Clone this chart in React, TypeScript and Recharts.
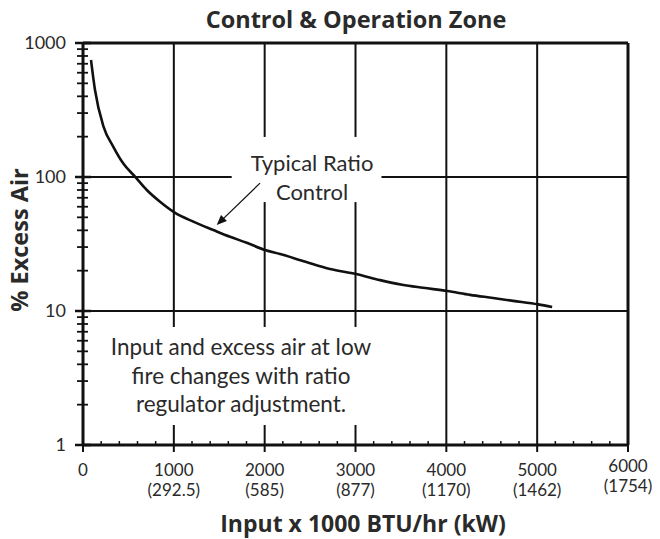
import { LineChart, Line, XAxis, YAxis, ReferenceLine } from "recharts";

// curve: input (x1000 BTU/hr) vs % excess air
const INPUT = [
  88, 132, 224, 334, 444, 573, 702, 848, 1006, 1215, 1435, 1619, 1803, 2004, 2170, 2450,
  2720, 3007, 3271, 3513, 3744, 4009, 4262, 4515, 4736, 5011, 5165,
];
const EXCESS_AIR = [
  747, 446, 240, 168, 126, 100.5, 80, 65.4, 54.5, 46.4, 40.2, 35.8, 32.3, 28.5, 26.6, 23.3,
  20.6, 18.9, 17.0, 15.7, 14.9, 14.1, 13.2, 12.5, 11.9, 11.2, 10.7,
];

const X_TICKS = [
  0, 200, 400, 600, 800, 1000, 1200, 1400, 1600, 1800, 2000, 2200, 2400, 2600, 2800, 3000,
  3200, 3400, 3600, 3800, 4000, 4200, 4400, 4600, 4800, 5000, 5200, 5400, 5600, 5800, 6000,
];
const X_MAJOR = [0, 1000, 2000, 3000, 4000, 5000, 6000];
const KW_LABELS = ["", "(292.5)", "(585)", "(877)", "(1170)", "(1462)", "(1754)"];

const Y_TICKS = [
  1, 2, 3, 4, 5, 6, 7, 8, 9, 10, 20, 30, 40, 50, 60, 70, 80, 90, 100, 200, 300, 400, 500,
  600, 700, 800, 900, 1000,
];
const Y_MAJOR = [1, 10, 100, 1000];

const data = INPUT.map((x, i) => ({ x, y: EXCESS_AIR[i] }));

const INK = "#111";
const TEXT = "#2a2a2a";
const FONT = "Lato, 'Open Sans', sans-serif";
const BOLD_FONT = "'Open Sans', Lato, sans-serif";

function XTick(props: any) {
  const { x, y, payload } = props;
  const v = payload.value as number;
  const idx = X_MAJOR.indexOf(v);
  if (idx < 0) {
    return <line x1={x} x2={x} y1={y - 4} y2={y} stroke={INK} strokeWidth={1.5} />;
  }
  const lift = v === 6000 ? -4 : 0;
  return (
    <g>
      <line x1={x} x2={x} y1={y} y2={y + 7} stroke={INK} strokeWidth={2} />
      <text x={x} y={y + 31 + lift} textAnchor="middle" fontSize={17} fill={TEXT} fontFamily={FONT}>
        {v}
      </text>
      {KW_LABELS[idx] && (
        <text x={x} y={y + 51 + lift} textAnchor="middle" fontSize={17} fill={TEXT} fontFamily={FONT}>
          {KW_LABELS[idx]}
        </text>
      )}
    </g>
  );
}

function YTick(props: any) {
  const { x, y, payload } = props;
  const v = payload.value as number;
  const major = Y_MAJOR.includes(v);
  return (
    <g>
      <line
        x1={x - (major ? 8 : 6)}
        x2={x + (major ? 8 : 5)}
        y1={y}
        y2={y}
        stroke={INK}
        strokeWidth={major ? 2.5 : 1.8}
      />
      {major && (
        <text x={x - 17} y={y} dy="0.35em" textAnchor="end" fontSize={18} fill={TEXT} fontFamily={FONT}>
          {v}
        </text>
      )}
    </g>
  );
}

function Arrow(props: any) {
  const { x1, y1, x2, y2 } = props;
  const a = Math.atan2(y2 - y1, x2 - x1);
  const len = 11;
  const w = 0.4;
  const p1 = [x2 - len * Math.cos(a - w), y2 - len * Math.sin(a - w)];
  const p2 = [x2 - len * Math.cos(a + w), y2 - len * Math.sin(a + w)];
  return (
    <g>
      <line x1={x1} y1={y1} x2={x2 - 6 * Math.cos(a)} y2={y2 - 6 * Math.sin(a)} stroke={INK} strokeWidth={1.3} />
      <polygon points={`${x2},${y2} ${p1[0]},${p1[1]} ${p2[0]},${p2[1]}`} fill={INK} />
    </g>
  );
}

const grid = { stroke: INK, strokeWidth: 2 };

export default function App() {
  return (
    <div style={{ position: "absolute", left: 0, top: 0, width: 660, height: 539, background: "#fff" }}>
      <LineChart width={660} height={539} data={data} margin={{ top: 43, right: 32, bottom: 0, left: 0 }}>
        <XAxis
          dataKey="x"
          type="number"
          domain={[0, 6000]}
          ticks={X_TICKS}
          interval={0}
          height={94}
          tickSize={0}
          tickMargin={0}
          tickLine={false}
          axisLine={{ stroke: INK, strokeWidth: 3 }}
          tick={<XTick />}
        />
        <YAxis
          type="number"
          scale="log"
          domain={[1, 1000]}
          allowDataOverflow
          ticks={Y_TICKS}
          interval={0}
          width={83}
          tickSize={0}
          tickMargin={0}
          tickLine={false}
          axisLine={{ stroke: INK, strokeWidth: 3 }}
          tick={<YTick />}
        />
        {/* grid with gaps where the notes sit */}
        <ReferenceLine segment={[{ x: 1000, y: 1000 }, { x: 1000, y: 7.6 }]} {...grid} />
        <ReferenceLine segment={[{ x: 1000, y: 1.41 }, { x: 1000, y: 1 }]} {...grid} />
        <ReferenceLine segment={[{ x: 2000, y: 1000 }, { x: 2000, y: 199 }]} {...grid} />
        <ReferenceLine segment={[{ x: 2000, y: 65 }, { x: 2000, y: 7.6 }]} {...grid} />
        <ReferenceLine segment={[{ x: 2000, y: 1.41 }, { x: 2000, y: 1 }]} {...grid} />
        <ReferenceLine segment={[{ x: 3000, y: 1000 }, { x: 3000, y: 199 }]} {...grid} />
        <ReferenceLine segment={[{ x: 3000, y: 65 }, { x: 3000, y: 7.6 }]} {...grid} />
        <ReferenceLine segment={[{ x: 3000, y: 1.41 }, { x: 3000, y: 1 }]} {...grid} />
        <ReferenceLine x={4000} {...grid} />
        <ReferenceLine x={5000} {...grid} />
        <ReferenceLine segment={[{ x: 0, y: 100 }, { x: 1637, y: 100 }]} {...grid} />
        <ReferenceLine segment={[{ x: 3286, y: 100 }, { x: 6000, y: 100 }]} {...grid} />
        <ReferenceLine y={10} {...grid} />
        <ReferenceLine y={1000} stroke={INK} strokeWidth={3} />
        <ReferenceLine x={6000} stroke={INK} strokeWidth={3} />
        <ReferenceLine segment={[{ x: 1949, y: 90 }, { x: 1472, y: 43.8 }]} shape={<Arrow />} />
        <Line
          type="monotone"
          dataKey="y"
          stroke={INK}
          strokeWidth={2.6}
          dot={false}
          isAnimationActive={false}
        />
      </LineChart>

      <div
        style={{
          position: "absolute",
          left: 356,
          top: 4,
          transform: "translateX(-50%)",
          whiteSpace: "nowrap",
          fontFamily: BOLD_FONT,
          fontWeight: 700,
          fontSize: 23.5,
          lineHeight: "30px",
          color: TEXT,
        }}
      >
        Control &amp; Operation Zone
      </div>
      <div
        style={{
          position: "absolute",
          left: 312,
          top: 148,
          transform: "translateX(-50%)",
          textAlign: "center",
          whiteSpace: "nowrap",
          fontFamily: FONT,
          fontSize: 22,
          lineHeight: "29px",
          color: TEXT,
        }}
      >
        Typical Ratio
        <br />
        Control
      </div>
      <div
        style={{
          position: "absolute",
          left: 241,
          top: 333,
          transform: "translateX(-50%)",
          textAlign: "center",
          whiteSpace: "nowrap",
          fontFamily: FONT,
          fontSize: 22.5,
          lineHeight: "28.5px",
          color: TEXT,
        }}
      >
        Input and excess air at low
        <br />
        fire changes with ratio
        <br />
        regulator adjustment.
      </div>
      <div
        style={{
          position: "absolute",
          left: 19,
          top: 240,
          transform: "translate(-50%, -50%) rotate(-90deg)",
          whiteSpace: "nowrap",
          fontFamily: BOLD_FONT,
          fontWeight: 700,
          fontSize: 23.5,
          lineHeight: "28px",
          color: TEXT,
        }}
      >
        % Excess Air
      </div>
      <div
        style={{
          position: "absolute",
          left: 363,
          top: 509,
          transform: "translateX(-50%)",
          whiteSpace: "nowrap",
          fontFamily: BOLD_FONT,
          fontWeight: 700,
          fontSize: 23,
          lineHeight: "28px",
          color: TEXT,
        }}
      >
        Input x 1000 BTU/hr (kW)
      </div>
    </div>
  );
}
